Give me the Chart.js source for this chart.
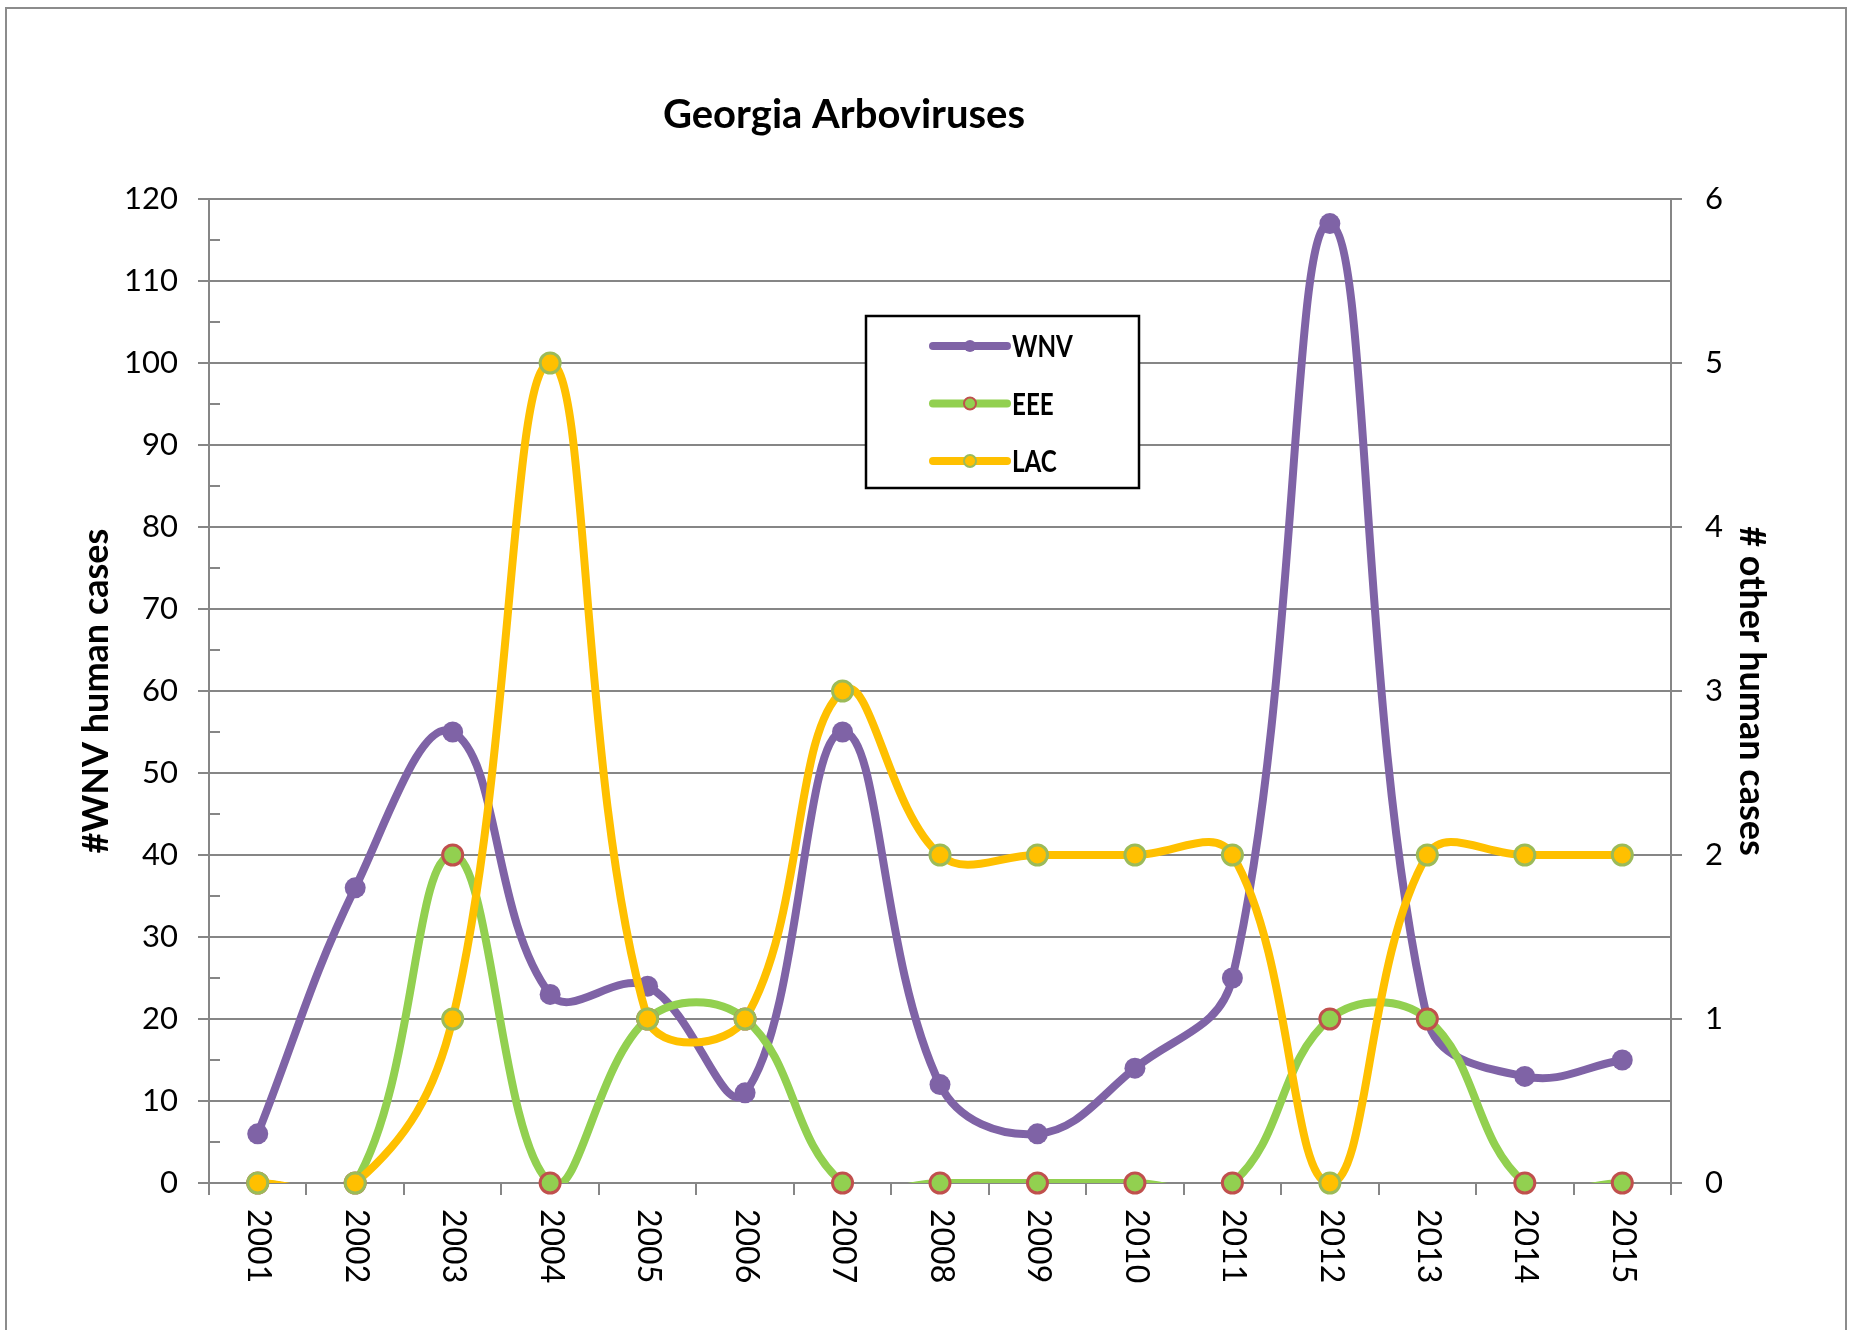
<!DOCTYPE html>
<html>
<head>
<meta charset="utf-8">
<title>Georgia Arboviruses</title>
<script src="https://cdn.jsdelivr.net/npm/chart.js@4.4.1/dist/chart.umd.min.js"></script>
<style>
  html, body { margin: 0; padding: 0; background: #ffffff; }
  canvas { display: block; }
</style>
</head>
<body>
<canvas id="chart" width="1858" height="1330"></canvas>
<script>
// Reported human arbovirus cases in Georgia, by year
const years = ['2001', '2002', '2003', '2004', '2005', '2006', '2007', '2008',
               '2009', '2010', '2011', '2012', '2013', '2014', '2015'];
const wnvCases = [6, 36, 55, 23, 24, 11, 55, 12, 6, 14, 25, 117, 20, 13, 15];   // left axis
const eeeCases = [0, 0, 2, 0, 1, 1, 0, 0, 0, 0, 0, 1, 1, 0, 0];                 // right axis
const lacCases = [0, 0, 1, 5, 1, 1, 3, 2, 2, 2, 2, 0, 2, 2, 2];                 // right axis

const leftAxis = { min: 0, max: 120, step: 10, minorStep: 5 };
const rightAxis = { min: 0, max: 6, step: 1 };

const chartTitle = 'Georgia Arboviruses';
const leftTitle = '#WNV human cases';
const rightTitle = '# other human cases';

const PURPLE = '#7f63a6';
const GREEN = '#92d050';
const GOLD = '#ffc000';
const RED_EDGE = '#c0504d';
const GREEN_EDGE = '#9bbb59';
const GRID = '#868686';
const FONT = 'Lato, "Open Sans", sans-serif';

const series = [
  { label: 'WNV', data: wnvCases, axis: 'y',  line: PURPLE, fill: PURPLE, edge: PURPLE, edgeWidth: 0, radius: 10.5 },
  { label: 'EEE', data: eeeCases, axis: 'y1', line: GREEN,  fill: GREEN,  edge: RED_EDGE, edgeWidth: 3, radius: 10 },
  { label: 'LAC', data: lacCases, axis: 'y1', line: GOLD,   fill: GOLD,   edge: GREEN_EDGE, edgeWidth: 3, radius: 10 }
];

// Each series: a smoothed line clipped at the plot floor, plus its markers (unclipped).
// Lower "order" is painted later, so LAC ends up on top and WNV at the bottom.
const datasets = [];
series.forEach((s, i) => {
  datasets.push({
    label: s.label,
    data: s.data,
    yAxisID: s.axis,
    borderColor: s.line,
    borderWidth: 8,
    tension: 0.4,
    capBezierPoints: false,
    pointRadius: 0,
    pointHoverRadius: 0,
    fill: false,
    clip: { left: false, top: false, right: false, bottom: 0 },
    order: 5 - i * 2
  });
  datasets.push({
    label: s.label + ' markers',
    data: s.data,
    yAxisID: s.axis,
    showLine: false,
    pointRadius: s.radius,
    pointHoverRadius: s.radius,
    pointBackgroundColor: s.fill,
    pointBorderColor: s.edge,
    pointBorderWidth: s.edgeWidth,
    clip: false,
    order: 4 - i * 2
  });
});

// Title, outer frame, minor ticks, rotated year labels and the boxed legend
const decorations = {
  id: 'decorations',
  afterDraw(chart) {
    const { ctx, chartArea, scales } = chart;
    const x = scales.x, y = scales.y;
    ctx.save();

    // outer frame
    ctx.strokeStyle = '#8c8c8c';
    ctx.lineWidth = 2;
    ctx.strokeRect(6, 8, 1840, 1340);

    // chart title
    ctx.fillStyle = '#000';
    ctx.font = 'bold 40px ' + FONT;
    ctx.textAlign = 'center';
    ctx.textBaseline = 'middle';
    ctx.fillText(chartTitle, 844, 115);

    // minor ticks on the inner side of the left axis
    ctx.strokeStyle = GRID;
    ctx.lineWidth = 2;
    for (let v = leftAxis.min + leftAxis.minorStep; v < leftAxis.max; v += leftAxis.step) {
      const py = Math.round(y.getPixelForValue(v));
      ctx.beginPath();
      ctx.moveTo(chartArea.left, py);
      ctx.lineTo(chartArea.left + 11, py);
      ctx.stroke();
    }

    // year labels, turned to read downward
    ctx.fillStyle = '#000';
    ctx.font = '32px ' + FONT;
    ctx.textAlign = 'left';
    ctx.textBaseline = 'middle';
    years.forEach((label, i) => {
      const px = x.getPixelForValue(i);
      ctx.save();
      ctx.translate(px + 1, chartArea.bottom + 26);
      ctx.rotate(Math.PI / 2);
      ctx.fillText(label, 0, 0);
      ctx.restore();
    });

    // legend box
    const box = { left: 866, top: 316, width: 273, height: 172 };
    ctx.fillStyle = '#ffffff';
    ctx.fillRect(box.left, box.top, box.width, box.height);
    ctx.strokeStyle = '#000000';
    ctx.lineWidth = 2.5;
    ctx.strokeRect(box.left, box.top, box.width, box.height);

    series.forEach((s, i) => {
      const ly = box.top + 30 + i * 57.5;
      const x0 = box.left + 67, x1 = box.left + 141;
      ctx.strokeStyle = s.line;
      ctx.lineWidth = 8;
      ctx.lineCap = 'round';
      ctx.beginPath();
      ctx.moveTo(x0, ly);
      ctx.lineTo(x1, ly);
      ctx.stroke();
      ctx.beginPath();
      ctx.arc((x0 + x1) / 2, ly, 6, 0, Math.PI * 2);
      ctx.fillStyle = s.fill;
      ctx.fill();
      if (s.edgeWidth) {
        ctx.strokeStyle = s.edge;
        ctx.lineWidth = 2;
        ctx.stroke();
      }
      ctx.save();
      ctx.translate(box.left + 146, ly + 1);
      ctx.scale(0.78, 1);
      ctx.fillStyle = '#000';
      ctx.font = 'bold 31px ' + FONT;
      ctx.textAlign = 'left';
      ctx.textBaseline = 'middle';
      ctx.fillText(s.label, 0, 0);
      ctx.restore();
    });

    ctx.restore();
  }
};

new Chart(document.getElementById('chart'), {
  type: 'line',
  data: { labels: years, datasets: datasets },
  options: {
    responsive: false,
    animation: false,
    events: [],
    layout: { padding: { top: 199, left: 0, right: 0, bottom: 0 } },
    plugins: {
      legend: { display: false },
      title: { display: false },
      tooltip: { enabled: false }
    },
    scales: {
      x: {
        type: 'category',
        offset: true,
        grid: {
          offset: true,
          drawOnChartArea: false,
          drawTicks: true,
          tickLength: 12,
          color: GRID,
          lineWidth: 2
        },
        border: { display: true, color: GRID, width: 2 },
        ticks: { display: false },
        afterFit(scale) { scale.height = 147; }
      },
      y: {
        position: 'left',
        min: leftAxis.min,
        max: leftAxis.max,
        grid: {
          color: GRID,
          lineWidth: 2,
          drawTicks: true,
          tickLength: 11
        },
        border: { display: true, color: GRID, width: 2 },
        ticks: {
          stepSize: leftAxis.step,
          padding: 20,
          color: '#000',
          font: { family: FONT, size: 31 }
        },
        title: {
          display: true,
          text: leftTitle,
          color: '#000',
          font: { family: FONT, size: 36, weight: 'bold' },
          padding: { top: 75, bottom: 0 }
        },
        afterFit(scale) { scale.width = 209; }
      },
      y1: {
        position: 'right',
        min: rightAxis.min,
        max: rightAxis.max,
        grid: {
          drawOnChartArea: false,
          color: GRID,
          lineWidth: 2,
          drawTicks: true,
          tickLength: 11
        },
        border: { display: true, color: GRID, width: 2 },
        ticks: {
          stepSize: rightAxis.step,
          padding: 23,
          color: '#000',
          font: { family: FONT, size: 31 }
        },
        title: {
          display: true,
          text: rightTitle,
          color: '#000',
          font: { family: FONT, size: 36, weight: 'bold' },
          padding: { top: 85, bottom: 0 }
        },
        afterFit(scale) { scale.width = 187; }
      }
    }
  },
  plugins: [decorations]
});
</script>
</body>
</html>
